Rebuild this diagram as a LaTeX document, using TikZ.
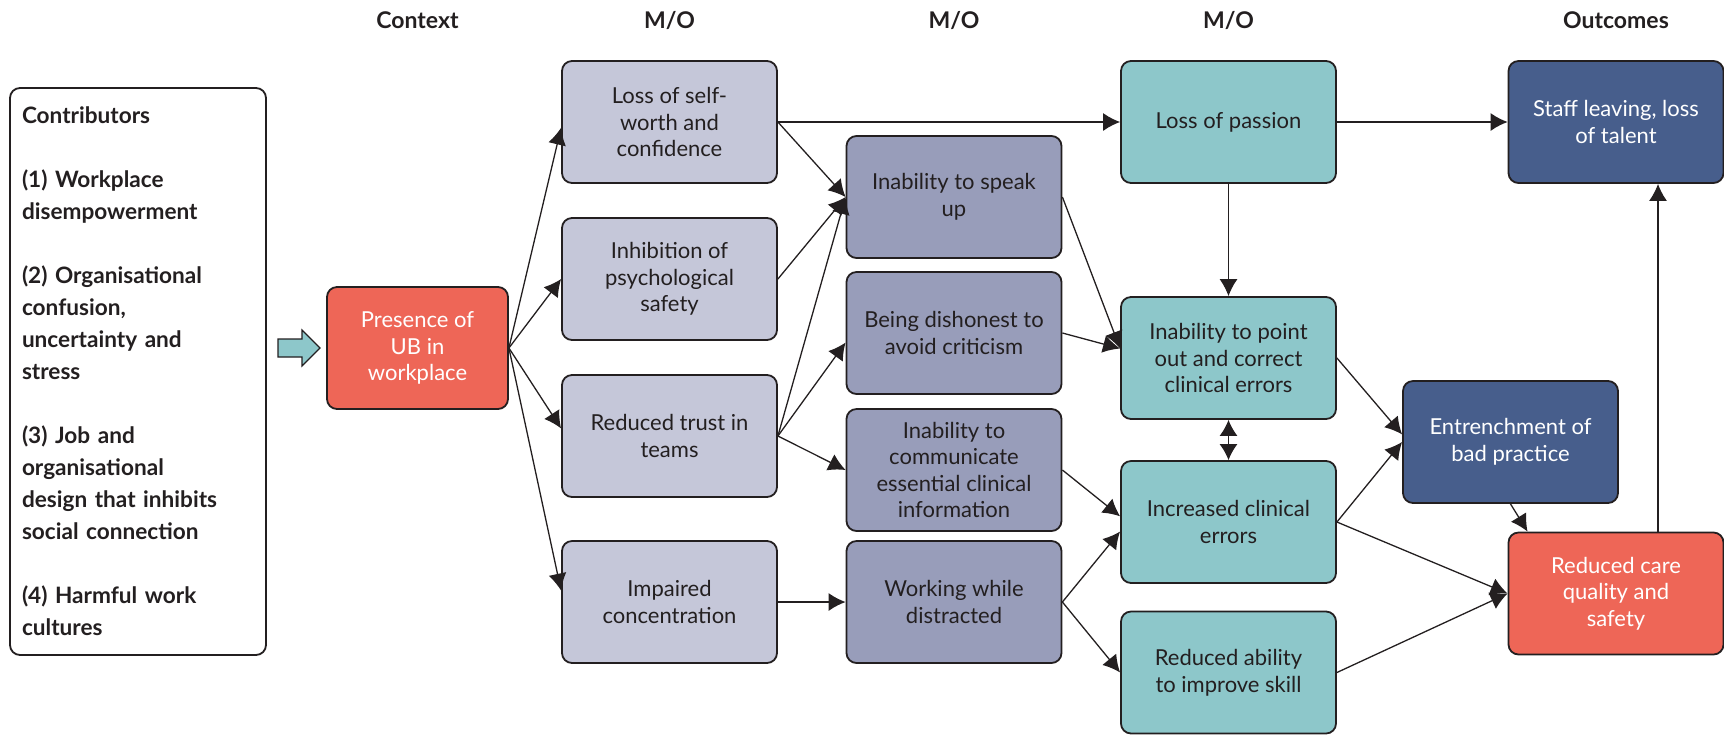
\documentclass[tikz,border=0pt]{standalone}
\usepackage{fontspec}
\setmainfont{Lato}
\usetikzlibrary{arrows.meta}
\definecolor{ink}{HTML}{231F20}
\definecolor{lilac}{HTML}{C5C7D9}
\definecolor{slate}{HTML}{989DBA}
\definecolor{aqua}{HTML}{8DC7CA}
\definecolor{navy}{HTML}{475E8C}
\definecolor{coral}{HTML}{EE6657}
\tikzset{
  box/.style={draw=ink, line width=0.9pt, rounded corners=5pt, minimum width=107.5pt,
    minimum height=61pt, align=center, text=ink, font=\fontsize{11}{13.3}\selectfont},
  light/.style={box, text=white},
  head/.style={text=ink, font=\fontsize{11.5}{13}\selectfont\bfseries},
  link/.style={draw=ink, line width=0.65pt, -{Latex[length=8.5pt,width=9pt]}},
  both/.style={link, {Latex[length=8pt,width=9pt]}-{Latex[length=8pt,width=9pt]}}
}
\begin{document}
\begin{tikzpicture}[x=0.5pt, y=-0.5pt]
\useasboundingbox (0,0) rectangle (1724,736);
\node[head] (hctx) at (417.5,20) {Context};
\node[head] (hmo1) at (669.5,20) {M/O};
\node[head] (hmo2) at (954,20) {M/O};
\node[head] (hmo3) at (1228.5,20) {M/O};
\node[head] (hout) at (1616,20) {Outcomes};
\node[draw=ink, line width=0.9pt, rounded corners=5pt, minimum width=128pt, minimum height=283.5pt,
  text width=116pt, align=left, text=ink, font=\fontsize{11.3}{16}\selectfont\bfseries] (contrib) at (138,371.5)
  {Contributors\\[16pt]
   (1) Workplace\\disempowerment\\[16pt]
   (2) Organisational\\confusion,\\uncertainty and\\stress\\[16pt]
   (3) Job and\\organisational\\design that inhibits\\social connection\\[16pt]
   (4) Harmful work\\cultures};
\draw[fill=aqua, draw=ink, line width=0.6pt] (278,339) -- (302,339) -- (302,330) -- (320,348)
  -- (302,366) -- (302,357) -- (278,357) -- cycle;
\node[light, fill=coral, minimum width=90.5pt] (ub) at (417.5,348) {Presence of\\UB in\\workplace};
\node[box, fill=lilac] (self) at (669.5,122) {Loss of self-\\worth and\\confidence};
\node[box, fill=lilac] (psych) at (669.5,279) {Inhibition of\\psychological\\safety};
\node[box, fill=lilac] (trust) at (669.5,436) {Reduced trust in\\teams};
\node[box, fill=lilac] (conc) at (669.5,602) {Impaired\\concentration};
\node[box, fill=slate] (speak) at (954,197) {Inability to speak\\up};
\node[box, fill=slate] (dishon) at (954,333) {Being dishonest to\\avoid criticism};
\node[box, fill=slate] (commun) at (954,470) {Inability to\\communicate\\essential clinical\\information};
\node[box, fill=slate] (distract) at (954,602) {Working while\\distracted};
\node[box, fill=aqua] (passion) at (1228.5,122) {Loss of passion};
\node[box, fill=aqua] (point) at (1228.5,358) {Inability to point\\out and correct\\clinical errors};
\node[box, fill=aqua] (errors) at (1228.5,522) {Increased clinical\\errors};
\node[box, fill=aqua] (skill) at (1228.5,672.5) {Reduced ability\\to improve skill};
\node[light, fill=navy] (staff) at (1616,122) {Staff leaving, loss\\of talent};
\node[light, fill=navy] (entrench) at (1510.5,442) {Entrenchment of\\bad practice};
\node[light, fill=coral] (care) at (1616,593.5) {Reduced care\\quality and\\safety};
\path (ub.east) edge[link] (self.183)
(ub.east) edge[link] (psych.west)
(ub.east) edge[link] (trust.176)
(ub.east) edge[link] (conc.174)
(self.east) edge[link] (passion.west)
(self.east) edge[link] (speak.west)
(psych.east) edge[link] (speak.west)
(trust.east) edge[link] (speak.west)
(trust.east) edge[link] (dishon.185)
(trust.east) edge[link] (commun.west)
(conc.east) edge[link] (distract.west)
(speak.east) edge[link] (point.175)
(dishon.east) edge[link] (point.175)
(commun.east) edge[link] (errors.177)
(distract.east) edge[link] (errors.185)
(distract.east) edge[link] (skill.west)
(passion.south) edge[link] (point.north)
(passion.east) edge[link] (staff.west)
(point.south) edge[both] (errors.north)
(point.east) edge[link] (entrench.176)
(errors.east) edge[link] (entrench.west)
(errors.east) edge[link] (care.west)
(skill.east) edge[link] (care.west)
(entrench.south) edge[link] (care.145)
([xshift=21pt]care.north) edge[link] ([xshift=21pt]staff.south);
\end{tikzpicture}
\end{document}
